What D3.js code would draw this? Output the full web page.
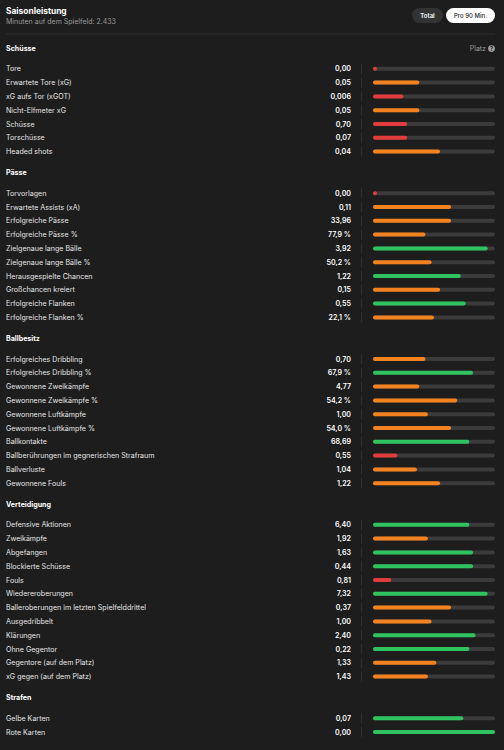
<!DOCTYPE html>
<html>
<head>
<meta charset="utf-8">
<script src="https://cdn.jsdelivr.net/npm/d3@7.9.0/dist/d3.min.js"></script>
<style>
  html, body { margin: 0; padding: 0; background: #1d1d1d; }
  svg { display: block; font-family: Inter, "Noto Sans", sans-serif; }
</style>
</head>
<body>
<svg id="chart" width="504" height="750"></svg>
<script>
// --- data: section titles, stat labels, displayed values and percentile ranks ---
const sections = ['Schüsse', 'Pässe', 'Ballbesitz', 'Verteidigung', 'Strafen'];

const shotLabels = ['Tore', 'Erwartete Tore (xG)', 'xG aufs Tor (xGOT)', 'Nicht-Elfmeter xG', 'Schüsse', 'Torschüsse', 'Headed shots'];
const shotValues = ['0,00', '0,05', '0,006', '0,05', '0,70', '0,07', '0,04'];
const shotRanks  = [2, 38, 25, 38, 28, 28, 55];

const passLabels = ['Torvorlagen', 'Erwartete Assists (xA)', 'Erfolgreiche Pässe', 'Erfolgreiche Pässe %', 'Zielgenaue lange Bälle', 'Zielgenaue lange Bälle %', 'Herausgespielte Chancen', 'Großchancen kreiert', 'Erfolgreiche Flanken', 'Erfolgreiche Flanken %'];
const passValues = ['0,00', '0,11', '33,96', '77,9 %', '3,92', '50,2 %', '1,22', '0,15', '0,55', '22,1 %'];
const passRanks  = [2, 64, 64, 43, 94, 48, 72, 55, 76, 50];

const possLabels = ['Erfolgreiches Dribbling', 'Erfolgreiches Dribbling %', 'Gewonnene Zweikämpfe', 'Gewonnene Zweikämpfe %', 'Gewonnene Luftkämpfe', 'Gewonnene Luftkämpfe %', 'Ballkontakte', 'Ballberührungen im gegnerischen Strafraum', 'Ballverluste', 'Gewonnene Fouls'];
const possValues = ['0,70', '67,9 %', '4,77', '54,2 %', '1,00', '54,0 %', '68,69', '0,55', '1,04', '1,22'];
const possRanks  = [43, 82, 38, 69, 45, 64, 79, 20, 36, 55];

const defLabels = ['Defensive Aktionen', 'Zweikämpfe', 'Abgefangen', 'Blockierte Schüsse', 'Fouls', 'Wiedereroberungen', 'Balleroberungen im letzten Spielfelddrittel', 'Ausgedribbelt', 'Klärungen', 'Ohne Gegentor', 'Gegentore (auf dem Platz)', 'xG gegen (auf dem Platz)'];
const defValues = ['6,40', '1,92', '1,63', '0,44', '0,81', '7,32', '0,37', '1,00', '2,40', '0,22', '1,33', '1,43'];
const defRanks  = [79, 45, 82, 82, 15, 94, 64, 48, 84, 79, 52, 45];

const cardLabels = ['Gelbe Karten', 'Rote Karten'];
const cardValues = ['0,07', '0,00'];
const cardRanks  = [74, 100];

const sectionData = [
  [shotLabels, shotValues, shotRanks],
  [passLabels, passValues, passRanks],
  [possLabels, possValues, possRanks],
  [defLabels, defValues, defRanks],
  [cardLabels, cardValues, cardRanks]
];

// --- layout ---
const svg = d3.select('#chart');
const left = 6, right = 495;
const rowStep = 13.8, headGap = 20.8;
const barX0 = 373, barX1 = 495, barH = 4;

const x = d3.scaleLinear().domain([0, 100]).range([0, barX1 - barX0]);
const color = d3.scaleThreshold()
  .domain([33, 70])
  .range(['#e23b3b', '#f3821f', '#2fc35f']);

// header
svg.append('text').attr('x', left).attr('y', 14)
  .attr('fill', '#fff').attr('font-size', 8.4).attr('font-weight', 700)
  .text('Saisonleistung');
svg.append('text').attr('x', left).attr('y', 24)
  .attr('fill', '#9a9a9a').attr('font-size', 7)
  .text('Minuten auf dem Spielfeld: 2.433');

svg.append('rect').attr('x', 412).attr('y', 8).attr('width', 31).attr('height', 15)
  .attr('rx', 7.5).attr('fill', '#333333');
svg.append('text').attr('x', 427.5).attr('y', 18).attr('text-anchor', 'middle')
  .attr('fill', '#fff').attr('font-size', 6).attr('font-weight', 600).text('Total');
svg.append('rect').attr('x', 446).attr('y', 8).attr('width', 49).attr('height', 15)
  .attr('rx', 7.5).attr('fill', '#ffffff');
svg.append('text').attr('x', 470.5).attr('y', 18).attr('text-anchor', 'middle')
  .attr('fill', '#1d1d1d').attr('font-size', 6).attr('font-weight', 500).text('Pro 90 Min.');

svg.append('line').attr('x1', left).attr('x2', right).attr('y1', 34).attr('y2', 34)
  .attr('stroke', '#2c2c2c').attr('stroke-width', 1);

// "Platz" hint
svg.append('text').attr('x', 486).attr('y', 51).attr('text-anchor', 'end')
  .attr('fill', '#9a9a9a').attr('font-size', 7).text('Platz');
svg.append('circle').attr('cx', 491.5).attr('cy', 48.6).attr('r', 3.4).attr('fill', '#a0a0a0');
svg.append('text').attr('x', 491.5).attr('y', 50.8).attr('text-anchor', 'middle')
  .attr('fill', '#1d1d1d').attr('font-size', 5.5).attr('font-weight', 700).text('?');

// sections
let y = 48;
sections.forEach((title, si) => {
  const [labels, values, ranks] = sectionData[si];

  svg.append('text').attr('x', left).attr('y', y + 2.5)
    .attr('fill', '#fff').attr('font-size', 7.1).attr('font-weight', 700)
    .text(title);

  const rows = labels.map((label, i) => ({
    label, value: values[i], rank: ranks[i], y: y + headGap + i * rowStep
  }));

  const g = svg.append('g');
  const row = g.selectAll('g.row').data(rows).join('g').attr('class', 'row')
    .attr('transform', d => `translate(0,${d.y})`);

  row.append('text').attr('x', left).attr('y', 2.5)
    .attr('fill', '#e6e6e6').attr('font-size', 7.1)
    .text(d => d.label);

  row.append('text').attr('x', 351).attr('y', 2.5).attr('text-anchor', 'end')
    .attr('fill', '#fff').attr('font-size', 7.1).attr('font-weight', 600)
    .text(d => d.value);

  row.append('line').attr('x1', 361.5).attr('x2', 361.5).attr('y1', -5).attr('y2', 5)
    .attr('stroke', '#303030').attr('stroke-width', 1);

  row.append('rect').attr('x', barX0).attr('y', -barH / 2)
    .attr('width', x(100)).attr('height', barH).attr('rx', barH / 2)
    .attr('fill', '#3b3b3b');

  row.append('rect').attr('x', barX0).attr('y', -barH / 2)
    .attr('width', d => Math.max(x(d.rank), barH)).attr('height', barH).attr('rx', barH / 2)
    .attr('fill', d => color(d.rank));

  y = y + headGap + (labels.length - 1) * rowStep + headGap;
});
</script>
</body>
</html>
